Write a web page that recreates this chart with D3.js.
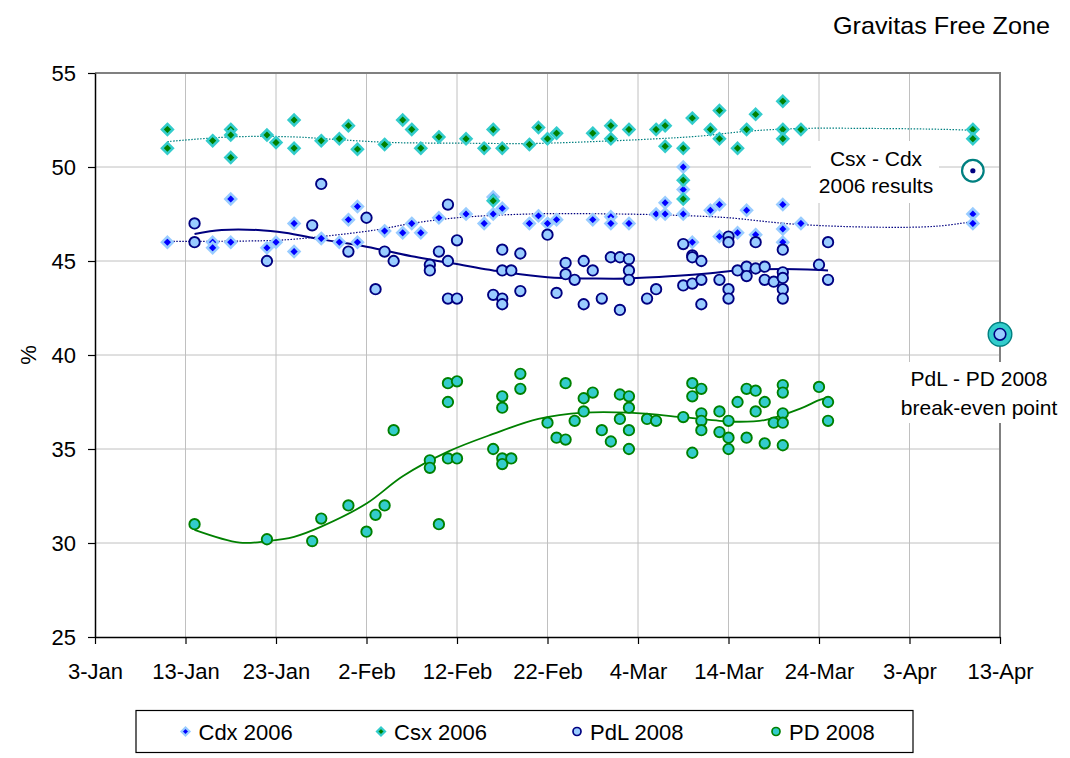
<!DOCTYPE html>
<html>
<head>
<meta charset="utf-8">
<script src="https://cdn.jsdelivr.net/npm/d3@7"></script>
<style>
  html, body { margin: 0; padding: 0; background: #fff; }
  svg { display: block; font-family: "Liberation Sans", Arial, sans-serif; }
</style>
</head>
<body>
<svg id="chart" width="1070" height="758"></svg>
<script>
// ---------------- DATA ----------------
const title = "Gravitas Free Zone";
const yLabel = "%";
const xTickLabels = ["3-Jan","13-Jan","23-Jan","2-Feb","12-Feb","22-Feb","4-Mar","14-Mar","24-Mar","3-Apr","13-Apr"];
const yTicks = [25, 30, 35, 40, 45, 50, 55];
const seriesNames = ["Cdx 2006", "Csx 2006", "PdL 2008", "PD 2008"];

const cdx2006 = [
  ["11-Jan",46.0],["16-Jan",46.0],["16-Jan",45.7],["18-Jan",46.0],["18-Jan",48.3],["22-Jan",45.7],
  ["23-Jan",46.0],["25-Jan",47.0],["25-Jan",45.5],["28-Jan",46.2],["30-Jan",46.0],["31-Jan",47.2],
  ["1-Feb",47.9],["1-Feb",46.0],["4-Feb",46.6],["6-Feb",46.5],["7-Feb",47.0],["8-Feb",46.5],
  ["10-Feb",47.3],["13-Feb",47.5],["15-Feb",47.0],["16-Feb",47.5],["16-Feb",48.4],["17-Feb",47.8],
  ["20-Feb",47.0],["21-Feb",47.4],["22-Feb",47.0],["23-Feb",47.2],["27-Feb",47.2],["1-Mar",47.35],
  ["1-Mar",47.0],["3-Mar",47.0],["6-Mar",47.5],["7-Mar",47.5],["7-Mar",48.1],["9-Mar",50.0],
  ["9-Mar",48.8],["9-Mar",47.5],["10-Mar",46.0],["12-Mar",47.7],["13-Mar",48.0],["13-Mar",46.3],
  ["15-Mar",46.5],["16-Mar",47.7],["17-Mar",46.4],["20-Mar",48.0],["20-Mar",46.7],["20-Mar",46.0],
  ["22-Mar",47.0],["10-Apr",47.5],["10-Apr",47.0]
];
const csx2006 = [
  ["11-Jan",52.0],["11-Jan",51.0],["16-Jan",51.4],["18-Jan",52.0],["18-Jan",51.7],["18-Jan",50.5],
  ["22-Jan",51.7],["23-Jan",51.3],["25-Jan",52.5],["25-Jan",51.0],["28-Jan",51.4],["30-Jan",51.5],
  ["31-Jan",52.2],["1-Feb",50.95],["4-Feb",51.2],["6-Feb",52.5],["7-Feb",52.0],["8-Feb",51.0],
  ["10-Feb",51.6],["13-Feb",51.5],["15-Feb",51.0],["16-Feb",52.0],["16-Feb",48.2],["17-Feb",51.0],
  ["20-Feb",51.2],["21-Feb",52.1],["22-Feb",51.5],["23-Feb",51.8],["27-Feb",51.8],["1-Mar",52.2],
  ["1-Mar",51.5],["3-Mar",52.0],["6-Mar",52.0],["7-Mar",52.2],["7-Mar",51.1],["9-Mar",51.0],
  ["9-Mar",49.3],["9-Mar",48.3],["10-Mar",52.6],["12-Mar",52.0],["13-Mar",53.0],["13-Mar",51.5],
  ["15-Mar",51.0],["16-Mar",52.0],["17-Mar",52.8],["20-Mar",53.5],["20-Mar",52.0],["20-Mar",51.5],
  ["22-Mar",52.0],["10-Apr",52.0],["10-Apr",51.5]
];
const pdl2008 = [
  ["14-Jan",47.0],["14-Jan",46.0],["22-Jan",45.0],["27-Jan",46.9],["28-Jan",49.1],["31-Jan",45.5],
  ["2-Feb",47.3],["3-Feb",43.5],["4-Feb",45.5],["5-Feb",45.0],["9-Feb",44.8],["9-Feb",44.5],
  ["10-Feb",45.5],["11-Feb",48.0],["11-Feb",45.0],["11-Feb",43.0],["12-Feb",43.0],["12-Feb",46.1],
  ["16-Feb",43.2],["17-Feb",45.6],["17-Feb",44.5],["17-Feb",43.0],["17-Feb",42.7],["18-Feb",44.5],
  ["19-Feb",45.4],["19-Feb",43.4],["22-Feb",46.4],["23-Feb",43.3],["24-Feb",44.9],["24-Feb",44.3],
  ["25-Feb",44.0],["26-Feb",45.0],["26-Feb",42.7],["27-Feb",44.5],["28-Feb",43.0],["1-Mar",45.2],
  ["2-Mar",45.2],["2-Mar",42.4],["3-Mar",45.1],["3-Mar",44.5],["3-Mar",44.0],["5-Mar",43.0],
  ["6-Mar",43.5],["9-Mar",45.9],["9-Mar",43.7],["10-Mar",45.3],["10-Mar",45.2],["10-Mar",43.8],
  ["11-Mar",45.0],["11-Mar",44.0],["11-Mar",42.7],["13-Mar",44.0],["14-Mar",46.3],["14-Mar",46.0],
  ["14-Mar",43.5],["14-Mar",43.0],["15-Mar",44.5],["16-Mar",44.7],["16-Mar",44.2],["17-Mar",44.6],
  ["17-Mar",46.0],["18-Mar",44.7],["18-Mar",44.0],["19-Mar",43.9],["20-Mar",45.6],["20-Mar",44.4],
  ["20-Mar",44.1],["20-Mar",43.5],["20-Mar",43.0],["24-Mar",44.8],["25-Mar",46.0],["25-Mar",44.0]
];
const pd2008 = [
  ["14-Jan",31.0],["22-Jan",30.2],["27-Jan",30.1],["28-Jan",31.3],["31-Jan",32.0],["2-Feb",30.6],
  ["3-Feb",31.5],["4-Feb",32.0],["5-Feb",36.0],["9-Feb",34.4],["9-Feb",34.0],["10-Feb",31.0],
  ["11-Feb",38.5],["11-Feb",37.5],["11-Feb",34.5],["12-Feb",38.6],["12-Feb",34.5],["16-Feb",35.0],
  ["17-Feb",37.8],["17-Feb",37.2],["17-Feb",34.5],["17-Feb",34.2],["18-Feb",34.5],["19-Feb",39.0],
  ["19-Feb",38.2],["22-Feb",36.4],["23-Feb",35.6],["24-Feb",38.5],["24-Feb",35.5],["25-Feb",36.5],
  ["26-Feb",37.7],["26-Feb",37.0],["27-Feb",38.0],["28-Feb",36.0],["1-Mar",35.4],["2-Mar",37.9],
  ["2-Mar",36.6],["3-Mar",37.8],["3-Mar",37.2],["3-Mar",36.0],["3-Mar",35.0],["5-Mar",36.6],
  ["6-Mar",36.5],["9-Mar",36.7],["10-Mar",38.5],["10-Mar",37.8],["10-Mar",34.8],["11-Mar",38.2],
  ["11-Mar",36.9],["11-Mar",36.5],["11-Mar",36.0],["13-Mar",37.0],["13-Mar",35.9],["14-Mar",36.5],
  ["14-Mar",35.6],["14-Mar",35.0],["15-Mar",37.5],["16-Mar",38.2],["16-Mar",35.6],["17-Mar",38.1],
  ["17-Mar",37.0],["18-Mar",37.5],["18-Mar",35.3],["19-Mar",36.4],["20-Mar",38.4],["20-Mar",38.0],
  ["20-Mar",36.9],["20-Mar",36.4],["20-Mar",35.2],["24-Mar",38.3],["25-Mar",37.5],["25-Mar",36.5]
];

// trend lines
const cdxTrend = [
  ["11-Jan",46.05],["23-Jan",46.1],["28-Jan",46.3],["3-Feb",46.65],["7-Feb",47.0],["12-Feb",47.3],
  ["20-Feb",47.5],["2-Mar",47.5],["10-Mar",47.4],["14-Mar",47.3],["21-Mar",46.97],["30-Mar",46.8],
  ["6-Apr",46.85],["10-Apr",47.1]
];
const csxTrend = [
  ["11-Jan",51.35],["18-Jan",51.6],["25-Jan",51.6],["30-Jan",51.45],["5-Feb",51.3],["12-Feb",51.27],
  ["20-Feb",51.25],["27-Feb",51.35],["6-Mar",51.5],["11-Mar",51.65],["16-Mar",51.9],["22-Mar",52.05],
  ["30-Mar",52.05],["7-Apr",52.0],["10-Apr",51.95]
];
const pdlTrend = [
  ["14-Jan",46.44],["17-Jan",46.65],["21-Jan",46.65],["24-Jan",46.5],["28-Jan",46.15],["2-Feb",45.76],
  ["7-Feb",45.25],["13-Feb",44.75],["16-Feb",44.5],["22-Feb",44.13],["27-Feb",44.07],["3-Mar",44.07],
  ["8-Mar",44.2],["12-Mar",44.35],["15-Mar",44.5],["20-Mar",44.57],["25-Mar",44.5]
];
const pdTrend = [
  ["14-Jan",30.7],["19-Jan",30.02],["22-Jan",30.1],["25-Jan",30.33],["28-Jan",30.87],["2-Feb",32.1],
  ["6-Feb",33.55],["11-Feb",34.86],["16-Feb",35.8],["21-Feb",36.6],["26-Feb",36.93],["3-Mar",36.93],
  ["9-Mar",36.69],["13-Mar",36.5],["15-Mar",36.45],["18-Mar",36.54],["22-Mar",37.16],["24-Mar",37.6],
  ["25-Mar",37.75]
];

const csxCdxResult = ["10-Apr", 49.8];
const breakEven = ["13-Apr", 41.1];
const csxCdxLabel = ["Csx - Cdx", "2006 results"];
const breakEvenLabel = ["PdL - PD 2008", "break-even point"];

// ---------------- CHART ----------------
const parse = d3.utcParse("%d-%b");
const svg = d3.select("#chart");
const plot = {left: 95, right: 1000, top: 73, bottom: 637};

const x = d3.scaleUtc()
  .domain([parse(xTickLabels[0]), parse(xTickLabels[xTickLabels.length - 1])])
  .range([plot.left, plot.right]);
const y = d3.scaleLinear().domain([25, 55]).range([plot.bottom, plot.top]);
const xTickDates = xTickLabels.map(parse);

const C = {
  grid: "#c0c0c0", frame: "#808080",
  cdxFill: "#0000ff", cdxEdge: "#99ccff",
  csxFill: "#008000", csxEdge: "#33cccc",
  pdlFill: "#99ccff", pdlEdge: "#000080",
  pdFill: "#33cccc", pdEdge: "#008000",
  teal: "#008080", navy: "#000080", green: "#008000"
};

// gridlines
const g = svg.append("g");
g.selectAll("line.hg").data(yTicks.filter(v => v > 25 && v < 55)).join("line")
  .attr("x1", plot.left).attr("x2", plot.right)
  .attr("y1", d => y(d)).attr("y2", d => y(d))
  .attr("stroke", C.grid).attr("stroke-width", 1);
g.selectAll("line.vg").data(xTickDates.slice(1, -1)).join("line")
  .attr("x1", d => x(d)).attr("x2", d => x(d))
  .attr("y1", plot.top).attr("y2", plot.bottom)
  .attr("stroke", C.grid).attr("stroke-width", 1);

// top & right frame
svg.append("line").attr("x1", plot.left).attr("x2", plot.right + 1)
  .attr("y1", plot.top).attr("y2", plot.top).attr("stroke", C.frame).attr("stroke-width", 2);
svg.append("line").attr("x1", plot.right).attr("x2", plot.right)
  .attr("y1", plot.top).attr("y2", plot.bottom).attr("stroke", C.frame).attr("stroke-width", 2);

// axes
const fontSize = 22;
const yAxis = svg.append("g").attr("transform", `translate(${plot.left},0)`)
  .call(d3.axisLeft(y).tickValues(yTicks).tickSize(7).tickSizeOuter(0).tickPadding(12));
const xAxis = svg.append("g").attr("transform", `translate(0,${plot.bottom})`)
  .call(d3.axisBottom(x).tickValues(xTickDates).tickFormat((d, i) => xTickLabels[i])
    .tickSize(7).tickSizeOuter(0).tickPadding(19));
[yAxis, xAxis].forEach(a => {
  a.selectAll("text").attr("font-size", fontSize).attr("fill", "#000")
    .attr("font-family", '"Liberation Sans", Arial, sans-serif');
  a.select(".domain").attr("stroke", "#000").attr("stroke-width", 1.5);
  a.selectAll(".tick line").attr("stroke", "#000").attr("stroke-width", 1.2);
});

// annotation boxes (white, hide grid)
svg.append("rect").attr("x", 811).attr("y", 141).attr("width", 128).attr("height", 62).attr("fill", "#fff");
svg.append("rect").attr("x", 900).attr("y", 362).attr("width", 165).attr("height", 61).attr("fill", "#fff");

// trend lines
const line = d3.line().x(d => x(parse(d[0]))).y(d => y(d[1])).curve(d3.curveCatmullRom.alpha(0.5));
svg.append("path").datum(csxTrend).attr("d", line).attr("fill", "none")
  .attr("stroke", C.teal).attr("stroke-width", 1.2).attr("stroke-dasharray", "1.5,1.5");
svg.append("path").datum(cdxTrend).attr("d", line).attr("fill", "none")
  .attr("stroke", C.navy).attr("stroke-width", 1.2).attr("stroke-dasharray", "1.5,1.5");
svg.append("path").datum(pdlTrend).attr("d", line).attr("fill", "none")
  .attr("stroke", C.navy).attr("stroke-width", 2);
svg.append("path").datum(pdTrend).attr("d", line).attr("fill", "none")
  .attr("stroke", C.green).attr("stroke-width", 1.8);

// markers
const diamond = h => `M0,${-h}L${h},0L0,${h}L${-h},0Z`;
function drawDiamonds(data, fill, edge) {
  svg.append("g").selectAll("path").data(data).join("path")
    .attr("d", diamond(5.4))
    .attr("transform", d => `translate(${x(parse(d[0]))},${y(d[1])})`)
    .attr("fill", fill).attr("stroke", edge).attr("stroke-width", 2.6)
    .attr("stroke-linejoin", "miter");
}
function drawCircles(data, fill, edge) {
  svg.append("g").selectAll("circle").data(data).join("circle")
    .attr("cx", d => x(parse(d[0]))).attr("cy", d => y(d[1])).attr("r", 5.2)
    .attr("fill", fill).attr("stroke", edge).attr("stroke-width", 1.9);
}
drawDiamonds(cdx2006, C.cdxFill, C.cdxEdge);
drawDiamonds(csx2006, C.csxFill, C.csxEdge);
drawCircles(pdl2008, C.pdlFill, C.pdlEdge);
drawCircles(pd2008, C.pdFill, C.pdEdge);

// special points
const rx = x(parse(csxCdxResult[0])), ry = y(csxCdxResult[1]);
svg.append("circle").attr("cx", rx).attr("cy", ry).attr("r", 10.8)
  .attr("fill", "#fff").attr("stroke", C.teal).attr("stroke-width", 2.2);
svg.append("circle").attr("cx", rx).attr("cy", ry).attr("r", 2.6).attr("fill", C.navy);

const bx = x(parse(breakEven[0])), by = y(breakEven[1]);
svg.append("circle").attr("cx", bx).attr("cy", by).attr("r", 11.8)
  .attr("fill", C.pdFill).attr("stroke", C.teal).attr("stroke-width", 1.4);
svg.append("circle").attr("cx", bx).attr("cy", by).attr("r", 5.8)
  .attr("fill", C.pdlFill).attr("stroke", C.navy).attr("stroke-width", 1.6);

// annotation text
const annoSize = 21;
svg.append("g").selectAll("text").data(csxCdxLabel).join("text")
  .attr("x", 876).attr("y", (d, i) => 165.5 + i * 27)
  .attr("text-anchor", "middle").attr("font-size", annoSize).attr("fill", "#000").text(d => d);
svg.append("g").selectAll("text").data(breakEvenLabel).join("text")
  .attr("x", 979).attr("y", (d, i) => 386 + i * 29)
  .attr("text-anchor", "middle").attr("font-size", annoSize).attr("fill", "#000").text(d => d);

// title
svg.append("text").attr("x", 1050).attr("y", 34).attr("text-anchor", "end")
  .attr("font-size", 24).attr("textLength", 217).attr("lengthAdjust", "spacingAndGlyphs")
  .attr("fill", "#000").text(title);

// y label
svg.append("text").attr("transform", "translate(36,355) rotate(-90)")
  .attr("text-anchor", "middle").attr("font-size", 22).attr("fill", "#000").text(yLabel);

// legend
const leg = svg.append("g");
leg.append("rect").attr("x", 136).attr("y", 710.5).attr("width", 777).attr("height", 42)
  .attr("fill", "#fff").attr("stroke", "#000").attr("stroke-width", 1.2);
const legX = [185.5, 381, 577, 776];
const legY = 731.5;
const legStyle = [
  {type: "d", fill: C.cdxFill, edge: C.cdxEdge},
  {type: "d", fill: C.csxFill, edge: C.csxEdge},
  {type: "c", fill: C.pdlFill, edge: C.pdlEdge},
  {type: "c", fill: C.pdFill, edge: C.pdEdge}
];
seriesNames.forEach((name, i) => {
  const s = legStyle[i];
  if (s.type === "d") {
    leg.append("path").attr("d", diamond(4)).attr("transform", `translate(${legX[i]},${legY})`)
      .attr("fill", s.fill).attr("stroke", s.edge).attr("stroke-width", 2.2);
  } else {
    leg.append("circle").attr("cx", legX[i]).attr("cy", legY).attr("r", 4)
      .attr("fill", s.fill).attr("stroke", s.edge).attr("stroke-width", 1.7);
  }
  leg.append("text").attr("x", legX[i] + 13).attr("y", legY + 8)
    .attr("font-size", 22).attr("fill", "#000").text(name);
});
</script>
</body>
</html>
